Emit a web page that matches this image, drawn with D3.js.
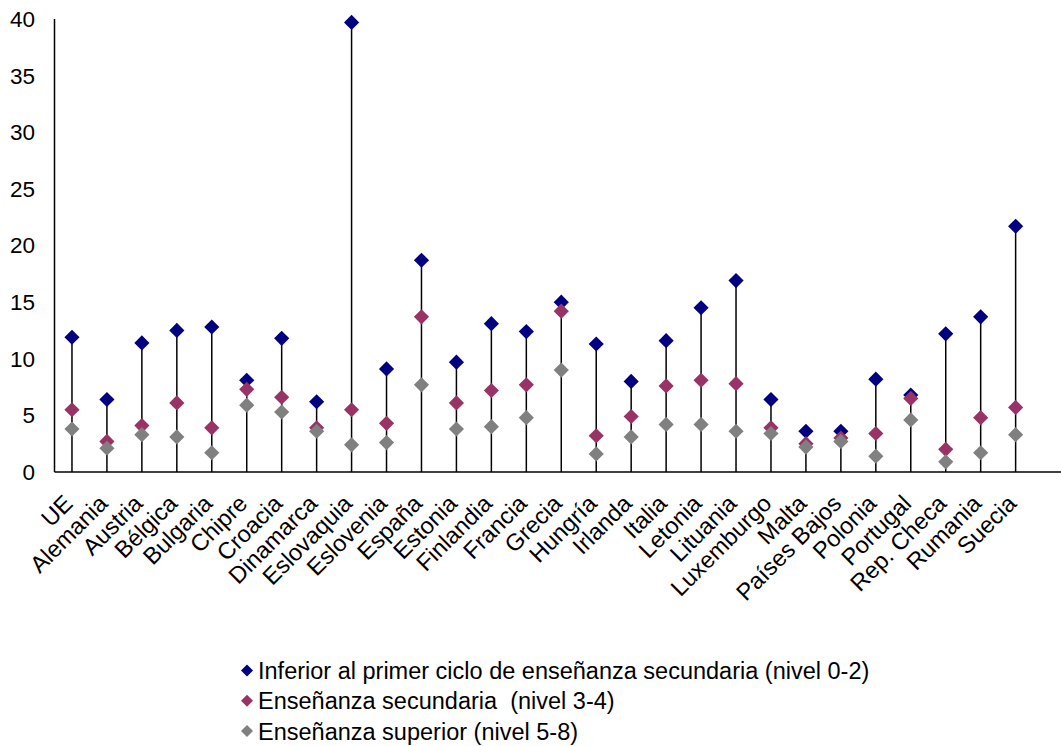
<!DOCTYPE html>
<html lang="es">
<head>
<meta charset="utf-8">
<script src="https://d3js.org/d3.v7.min.js"></script>
<style>
  body { margin: 0; background: #fff; }
  svg text { font-family: "Liberation Sans", Arial, sans-serif; fill: #000; white-space: pre; }
</style>
</head>
<body>
<script>
// countries on the x axis
var paises = ["UE","Alemania","Austria","Bélgica","Bulgaria","Chipre","Croacia","Dinamarca",
  "Eslovaquia","Eslovenia","España","Estonia","Finlandia","Francia","Grecia","Hungría",
  "Irlanda","Italia","Letonia","Lituania","Luxemburgo","Malta","Países Bajos","Polonia",
  "Portugal","Rep. Checa","Rumania","Suecia"];

// nivel 0-2
var inferior = [11.9,6.4,11.4,12.5,12.8,8.1,11.8,6.2,39.7,9.1,18.7,9.7,13.1,12.4,15.0,11.3,
  8.0,11.6,14.5,16.9,6.4,3.6,3.6,8.2,6.8,12.2,13.7,21.7];
// nivel 3-4
var secundaria = [5.5,2.7,4.1,6.1,3.9,7.3,6.6,3.9,5.5,4.3,13.7,6.1,7.2,7.7,14.2,3.2,
  4.9,7.6,8.1,7.8,3.9,2.5,3.0,3.4,6.5,2.0,4.8,5.7];
// nivel 5-8
var superior = [3.8,2.1,3.3,3.1,1.7,5.9,5.3,3.6,2.4,2.6,7.7,3.8,4.0,4.8,9.0,1.6,
  3.1,4.2,4.2,3.6,3.4,2.2,2.7,1.4,4.6,0.9,1.7,3.3];

var yTicks = [0,5,10,15,20,25,30,35,40];

var series = [
  {name: "Inferior al primer ciclo de enseñanza secundaria (nivel 0-2)", values: inferior, color: "#000080"},
  {name: "Enseñanza secundaria  (nivel 3-4)", values: secundaria, color: "#993366"},
  {name: "Enseñanza superior (nivel 5-8)", values: superior, color: "#808080"}
];

var w = 1061, h = 746;
var mLeft = 54.5, mTop = 19, mBottom = 472;

var svg = d3.select("body").append("svg")
  .attr("width", w).attr("height", h);

var x = d3.scaleBand()
  .domain(paises)
  .range([mLeft, mLeft + 34.95 * paises.length]);

var y = d3.scaleLinear()
  .domain([0, 40])
  .range([mBottom, mTop]);

// y tick labels
svg.append("g").selectAll("text")
  .data(yTicks)
  .enter().append("text")
  .attr("x", 35)
  .attr("y", function(d) { return y(d); })
  .attr("dy", "0.35em")
  .attr("text-anchor", "end")
  .style("font-size", "22.5px")
  .text(function(d) { return d; });

// stems from 0 to the highest value
svg.append("g").selectAll("line")
  .data(paises)
  .enter().append("line")
  .attr("x1", function(d) { return x(d) + x.bandwidth() / 2; })
  .attr("x2", function(d) { return x(d) + x.bandwidth() / 2; })
  .attr("y1", y(0))
  .attr("y2", function(d, i) { return y(Math.max(inferior[i], secundaria[i], superior[i])); })
  .attr("stroke", "#000")
  .attr("stroke-width", 1.5);

// axes lines
svg.append("line")
  .attr("x1", mLeft).attr("x2", mLeft)
  .attr("y1", y(40)).attr("y2", y(0))
  .attr("stroke", "#000").attr("stroke-width", 1.5);
svg.append("line")
  .attr("x1", mLeft).attr("x2", w)
  .attr("y1", y(0)).attr("y2", y(0))
  .attr("stroke", "#000").attr("stroke-width", 1.5);

var diamond = d3.symbol().type(d3.symbolSquare).size(115);

series.forEach(function(s) {
  svg.append("g").selectAll("path")
    .data(s.values)
    .enter().append("path")
    .attr("d", diamond)
    .attr("transform", function(d, i) {
      return "translate(" + (x(paises[i]) + x.bandwidth() / 2) + "," + y(d) + ") rotate(45)";
    })
    .attr("fill", s.color);
});

// x labels, rotated
svg.append("g").selectAll("text")
  .data(paises)
  .enter().append("text")
  .attr("transform", function(d) {
    return "translate(" + (x(d) + x.bandwidth() / 2 + 2) + "," + 505 + ") rotate(-45)";
  })
  .attr("text-anchor", "end")
  .style("font-size", "23.5px")
  .text(function(d) { return d; });

// legend
var legend = svg.append("g");
var smallDiamond = d3.symbol().type(d3.symbolSquare).size(72);
series.forEach(function(s, i) {
  var ly = 670.5 + i * 30.3;
  legend.append("path")
    .attr("d", smallDiamond)
    .attr("transform", "translate(247," + ly + ") rotate(45)")
    .attr("fill", s.color);
  legend.append("text")
    .attr("x", 258)
    .attr("y", ly)
    .attr("dy", "0.36em")
    .style("font-size", "23.5px")
    .text(s.name);
});
</script>
</body>
</html>
